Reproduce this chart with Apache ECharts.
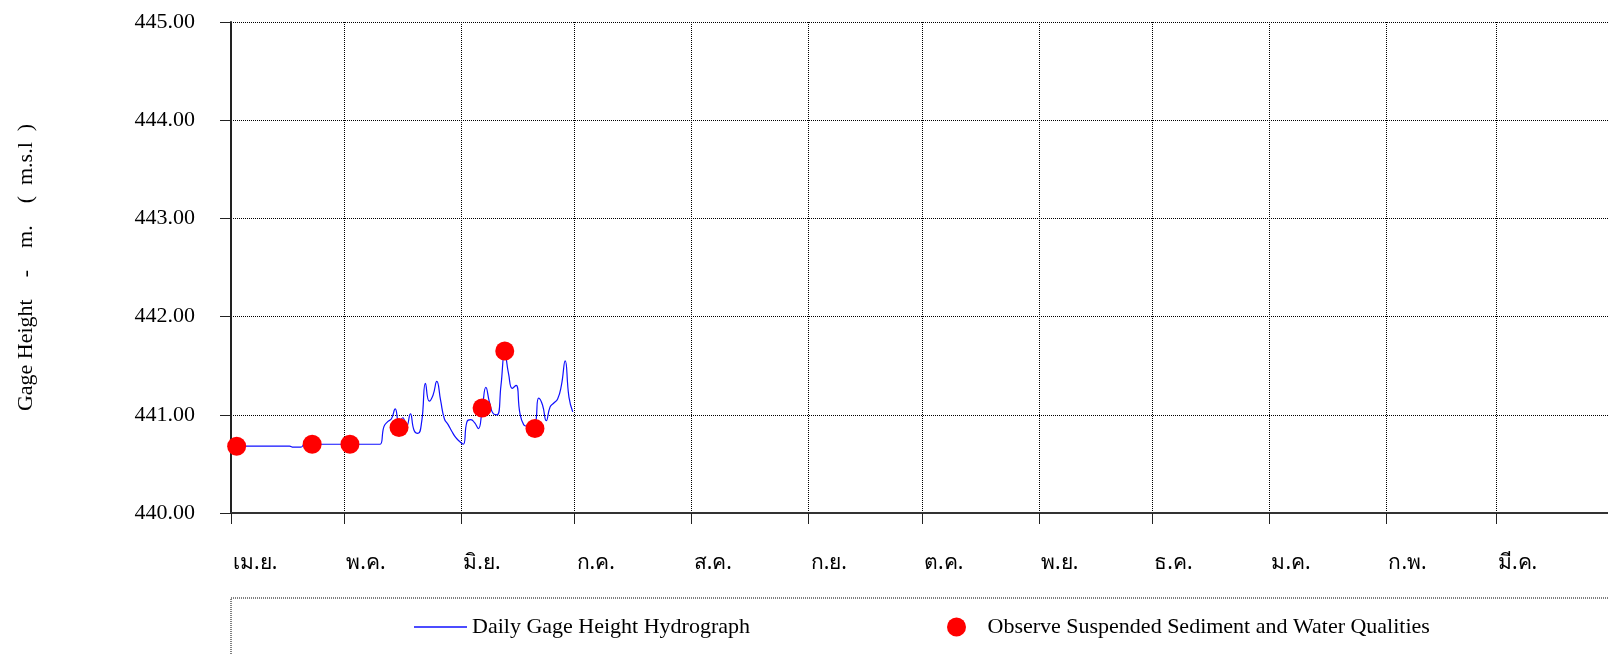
<!DOCTYPE html>
<html>
<head>
<meta charset="utf-8">
<script src="https://cdn.jsdelivr.net/npm/echarts@6/dist/echarts.min.js"></script>
<style>
  html, body { margin: 0; padding: 0; background: #fff; overflow: hidden; }
  #chart { width: 1616px; height: 655px; }
</style>
</head>
<body>
<div id="chart"></div>
<script>
// Thai month labels (water year Apr -> Mar), one per month start
const monthLabels = ["เม.ย.", "พ.ค.", "มิ.ย.", "ก.ค.", "ส.ค.", "ก.ย.", "ต.ค.", "พ.ย.", "ธ.ค.", "ม.ค.", "ก.พ.", "มี.ค.", ""];
const monthStarts = ["2023-04-01", "2023-05-01", "2023-06-01", "2023-07-01", "2023-08-01", "2023-09-01",
  "2023-10-01", "2023-11-01", "2023-12-01", "2024-01-01", "2024-02-01", "2024-03-01", "2024-04-01"];

// daily gage height (m. msl), one value per day starting 1 Apr
const gageHeight = [
  440.68, 440.68, 440.68, 440.68, 440.68, 440.68, 440.68, 440.68, 440.68, 440.68,
  440.68, 440.68, 440.68, 440.68, 440.68, 440.68, 440.67, 440.67, 440.67, 440.70,
  440.70, 440.70, 440.70, 440.70, 440.70, 440.70, 440.70, 440.70, 440.70, 440.70,
  440.70, 440.70, 440.70, 440.70, 440.70, 440.70, 440.70, 440.70, 440.70, 440.70,
  440.88, 440.93, 440.96, 441.06, 440.92, 440.97, 440.88, 441.01, 440.84, 440.81,
  440.93, 441.32, 441.14, 441.20, 441.34, 441.15, 440.96, 440.90, 440.83, 440.77,
  440.73, 440.70, 440.93, 440.95, 440.92, 440.86, 441.05, 441.28, 441.12, 441.01,
  441.00, 441.30, 441.63, 441.42, 441.27, 441.30, 441.02, 440.90, 440.88, 440.86,
  440.88, 441.17, 441.10, 440.94, 441.08, 441.12, 441.16, 441.30, 441.55, 441.18,
  441.03
];

// sediment / water quality sampling days
const sampleDates = ["2023-04-02", "2023-04-22", "2023-05-02", "2023-05-15", "2023-06-06", "2023-06-12", "2023-06-20"];
const sampleHeights = [440.68, 440.70, 440.70, 440.87, 441.07, 441.65, 440.86];

const serif = "'Liberation Serif', 'DejaVu Serif', serif";
const thai = "'Noto Sans', 'DejaVu Sans', sans-serif";

// x axis counts days from 1 Apr; readings are plotted at midday
const DAY = 86400000;
const t0 = new Date(monthStarts[0] + "T00:00:00").getTime();
const dayOf = (s) => Math.round((new Date(s + "T00:00:00").getTime() - t0) / DAY);
const monthTicks = monthStarts.map(dayOf);

const gageData = gageHeight.map((v, i) => [i + 0.5, v]);
const sampleData = sampleDates.map((d, i) => [dayOf(d) + 0.5, sampleHeights[i]]);

const gridLine = { color: "#000", width: 1, type: [1, 1] };

const chart = echarts.init(document.getElementById("chart"));
chart.setOption({
  animation: false,
  backgroundColor: "#fff",
  grid: { left: 231, right: 1, top: 22, bottom: 142, containLabel: false },
  xAxis: {
    type: "value",
    min: 0,
    max: monthTicks[monthTicks.length - 1],
    axisLine: { show: true, lineStyle: { color: "#333", width: 2 } },
    axisTick: { show: true, customValues: monthTicks, length: 11, lineStyle: { color: "#222", width: 1 } },
    axisLabel: {
      customValues: monthTicks,
      formatter: (v) => monthLabels[monthTicks.indexOf(v)] || "",
      align: "left",
      margin: 40,
      padding: [0, 0, 0, 2],
      fontSize: 21,
      color: "#000",
      fontFamily: thai,
      hideOverlap: false
    },
    splitLine: { show: true, lineStyle: gridLine }
  },
  yAxis: {
    type: "value",
    min: 440,
    max: 445,
    interval: 1,
    name: "Gage Height    -    m.    (  m.s.l  )",
    nameLocation: "middle",
    nameGap: 194,
    nameTextStyle: { fontSize: 22, color: "#000", fontFamily: serif },
    axisLine: { show: true, lineStyle: { color: "#222", width: 2 } },
    axisTick: { show: true, length: 11, lineStyle: { color: "#222", width: 1 } },
    axisLabel: { formatter: (v) => v.toFixed(2), margin: 36, fontSize: 22, color: "#000", fontFamily: serif },
    splitLine: { show: true, lineStyle: gridLine }
  },
  legend: [
    {
      data: [{ name: "Daily Gage Height Hydrograph", icon: "rect" }],
      left: 414, top: 616, padding: 0,
      itemWidth: 53, itemHeight: 1.5,
      textStyle: { fontSize: 22, color: "#000", fontFamily: serif }
    },
    {
      data: [{ name: "Observe Suspended Sediment and Water Qualities", icon: "circle" }],
      left: 947, top: 616, padding: 0,
      itemWidth: 52, itemHeight: 19,
      textStyle: { fontSize: 22, color: "#000", fontFamily: serif }
    }
  ],
  graphic: [{
    type: "rect",
    shape: { x: 231, y: 598, width: 1500, height: 200 },
    style: { fill: "none", stroke: "#000", lineWidth: 1, lineDash: [1, 1] },
    silent: true
  }],
  series: [
    {
      name: "Daily Gage Height Hydrograph",
      type: "line",
      data: gageData,
      smooth: 0.5,
      symbol: "none",
      lineStyle: { color: "#1010ff", width: 1.2 },
      itemStyle: { color: "#1010ff" },
      z: 2
    },
    {
      name: "Observe Suspended Sediment and Water Qualities",
      type: "scatter",
      data: sampleData,
      symbolSize: 19,
      itemStyle: { color: "#ff0000", opacity: 1 },
      z: 3
    }
  ]
});
</script>
</body>
</html>
